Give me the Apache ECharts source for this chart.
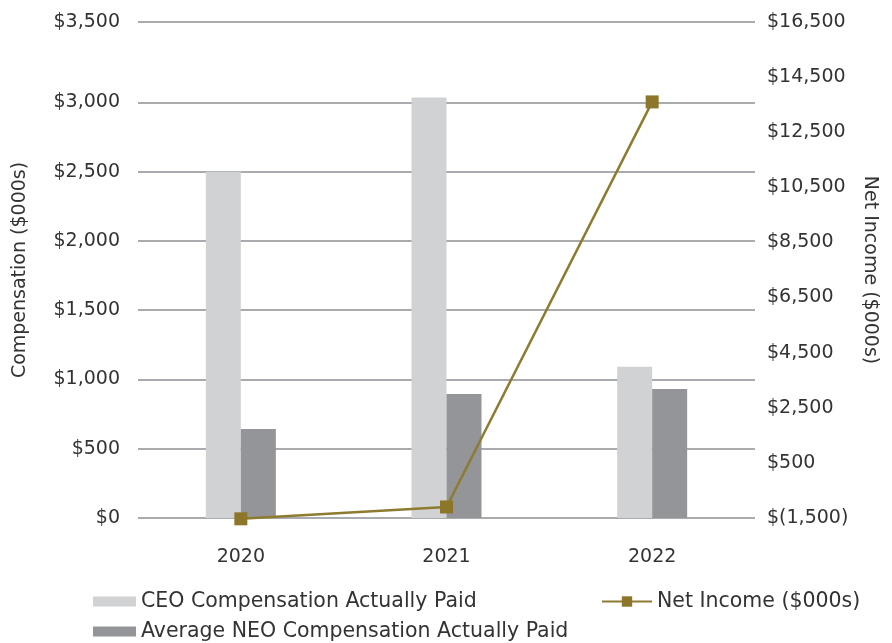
<!DOCTYPE html>
<html>
<head>
<meta charset="utf-8">
<script src="https://cdn.jsdelivr.net/npm/echarts@6/dist/echarts.min.js"></script>
<style>
html,body{margin:0;padding:0;background:#fff;}
#chart{width:892px;height:643px;}
</style>
</head>
<body>
<div id="chart"></div>
<script>
var categories = ['2020', '2021', '2022'];
var ceoComp = [2500, 3035, 1092];
var neoComp = [642, 895, 931];
var netIncome = [-1530, -1100, 13600];

var leftTickValues = [0, 500, 1000, 1500, 2000, 2500, 3000, 3580];
var leftTickLabels = ['$0', '$500', '$1,000', '$1,500', '$2,000', '$2,500', '$3,000', '$3,500'];
var rightTickValues = [-1500, 500, 2500, 4500, 6500, 8500, 10500, 12500, 14500, 16500];
var rightTickLabels = ['$(1,500)', '$500', '$2,500', '$4,500', '$6,500', '$8,500', '$10,500', '$12,500', '$14,500', '$16,500'];

var FONT = 'DejaVu Sans';
var TXT = '#333333';
var FS = 19;
var LFS = 20.5;

var chart = echarts.init(document.getElementById('chart'), null, {renderer: 'canvas'});
chart.setOption({
  animation: false,
  backgroundColor: '#ffffff',
  textStyle: {fontFamily: FONT, color: TXT},
  grid: {left: 138, right: 137, top: 22, bottom: 125, containLabel: false},
  legend: [
    {
      data: ['CEO Compensation Actually Paid', 'Average NEO Compensation Actually Paid'],
      orient: 'vertical',
      left: 93, top: 591,
      height: 52,
      padding: 0,
      itemWidth: 43, itemHeight: 10, itemGap: 9,
      icon: 'rect',
      textStyle: {fontFamily: FONT, fontSize: LFS, color: TXT, lineHeight: 20},
      selectedMode: false
    },
    {
      data: ['Net Income ($000s)'],
      left: 601, top: 591,
      padding: 0,
      itemWidth: 50, itemHeight: 13,
      textStyle: {fontFamily: FONT, fontSize: LFS, color: TXT, lineHeight: 20},
      selectedMode: false
    }
  ],
  xAxis: {
    type: 'category',
    data: categories,
    axisLine: {show: false},
    axisTick: {show: false},
    axisLabel: {margin: 30, fontFamily: FONT, fontSize: FS, color: TXT},
    splitLine: {show: false}
  },
  yAxis: [
    {
      type: 'value',
      min: 0, max: 3580,
      name: 'Compensation ($000s)',
      nameLocation: 'middle',
      nameGap: 108,
      nameTextStyle: {fontFamily: FONT, fontSize: FS, color: TXT},
      axisLine: {show: false},
      axisTick: {show: false, customValues: leftTickValues},
      axisLabel: {
        customValues: leftTickValues,
        margin: 18,
        fontFamily: FONT, fontSize: FS, color: TXT,
        formatter: function (v) {
          var i = leftTickValues.indexOf(v);
          return i >= 0 ? leftTickLabels[i] : '';
        }
      },
      splitLine: {show: true, lineStyle: {color: '#a9abae', width: 2}}
    },
    {
      type: 'value',
      min: -1500, max: 16500,
      position: 'right',
      name: 'Net Income ($000s)',
      nameLocation: 'middle',
      nameGap: 105,
      nameRotate: -90,
      nameTextStyle: {fontFamily: FONT, fontSize: FS, color: TXT},
      axisLine: {show: false},
      axisTick: {show: false, customValues: rightTickValues},
      axisLabel: {
        customValues: rightTickValues,
        margin: 12,
        fontFamily: FONT, fontSize: FS, color: TXT,
        formatter: function (v) {
          var i = rightTickValues.indexOf(v);
          return i >= 0 ? rightTickLabels[i] : '';
        }
      },
      splitLine: {show: false}
    }
  ],
  series: [
    {
      name: 'CEO Compensation Actually Paid',
      type: 'bar',
      data: ceoComp,
      barWidth: 35,
      barGap: '0%',
      itemStyle: {color: '#d1d2d4'},
      z: 2
    },
    {
      name: 'Average NEO Compensation Actually Paid',
      type: 'bar',
      data: neoComp,
      barWidth: 35,
      barGap: '0%',
      itemStyle: {color: '#939598'},
      z: 2
    },
    {
      name: 'Net Income ($000s)',
      type: 'line',
      yAxisIndex: 1,
      data: netIncome,
      symbol: 'rect',
      symbolSize: 13,
      clip: false,
      lineStyle: {color: '#8d7b30', width: 2.5},
      itemStyle: {color: '#8c762a'},
      z: 3
    }
  ]
});
</script>
</body>
</html>
